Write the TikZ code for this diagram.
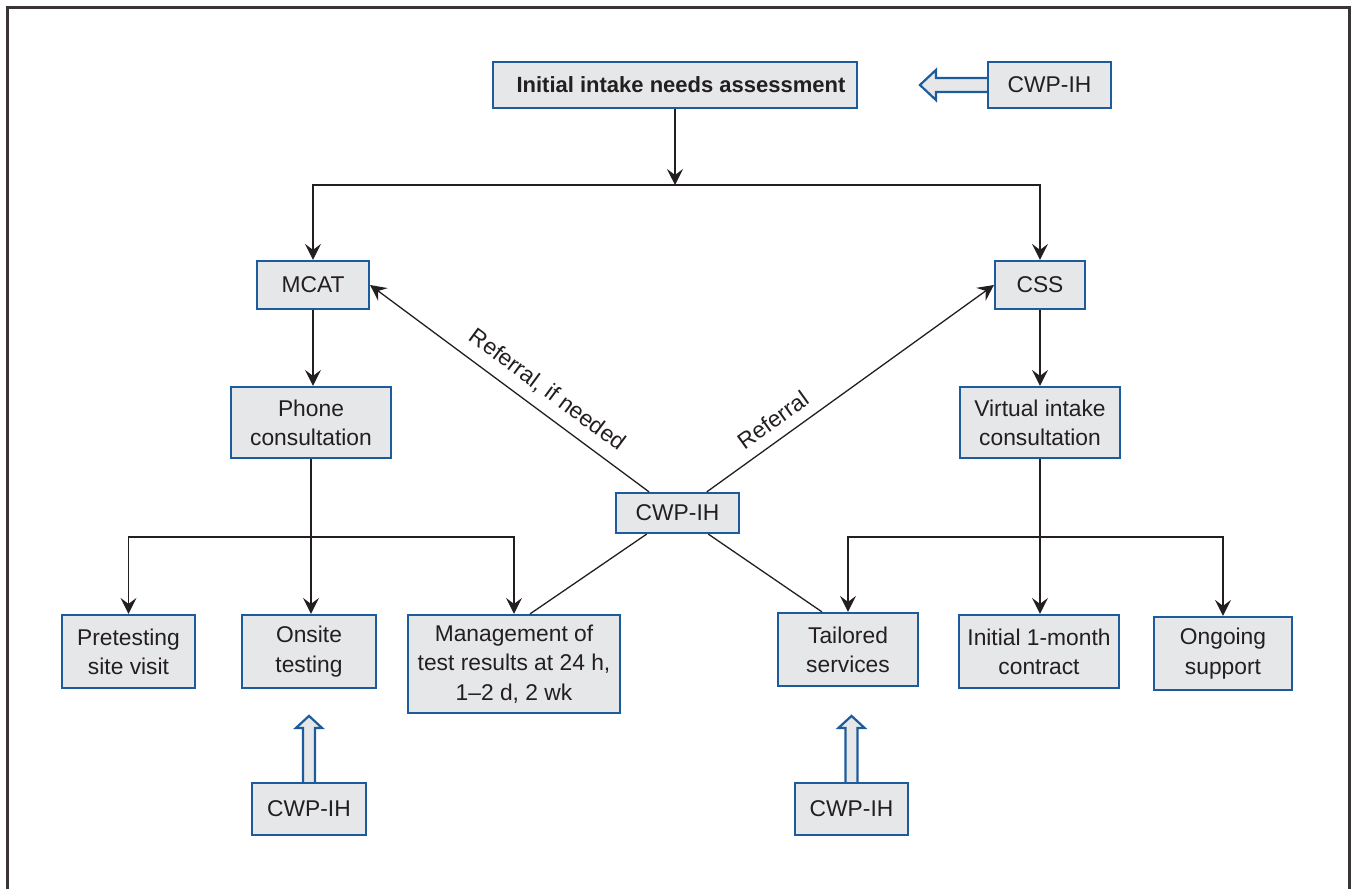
\documentclass[tikz,border=0pt]{standalone}
\usepackage{fontspec}
\setmainfont{Liberation Sans}
\usetikzlibrary{arrows.meta,calc,backgrounds}

\definecolor{boxgray}{HTML}{E6E7E8}
\definecolor{boxblue}{HTML}{1D5C9C}
\definecolor{inkgray}{HTML}{231F20}

\tikzset{
  box/.style={draw=boxblue, fill=boxgray, line width=1.1pt, inner sep=0pt,
    align=center, text=inkgray, font=\fontsize{11.4}{14.6}\selectfont},
  conn/.style={draw=inkgray, line width=0.65pt},
  arr/.style={conn, -{Stealth[length=8pt,width=8pt,inset=3pt]}},
  hollowarrow/.style={draw=boxblue, fill=boxgray, line width=1.1pt, line join=miter},
  frameline/.style={draw=inkgray!90, line width=1.5pt},
  reflabel/.style={sloped, above=2pt, text=inkgray, font=\fontsize{11.4}{13}\selectfont}
}

\begin{document}
\begin{tikzpicture}[x=0.5pt, y=-0.5pt]

\useasboundingbox (0,0) rectangle (1353,889);

% Part A: Frame

\draw[frameline] (7,889) -- (7,7) -- (1349,7) -- (1349,889);

% Part B: Boxes

% Top row
\node[box, minimum width=182pt, minimum height=23pt] (intake) at (675,85) {};
\node[text=inkgray, font=\fontsize{11}{14}\selectfont\bfseries, inner sep=0pt] (intaketext) at (681,85) {Initial intake needs assessment};
\node[box, minimum width=61.5pt, minimum height=23pt] (cwptop) at (1049.5,85) {CWP-IH};

% Programs
\node[box, minimum width=56pt, minimum height=24pt] (mcat) at (313,285) {MCAT};
\node[box, minimum width=45pt, minimum height=24pt] (css) at (1040,285) {CSS};

% Consultations
\node[box, minimum width=80pt, minimum height=35.5pt] (phone) at (311,422.5) {Phone\\consultation};
\node[box, minimum width=80pt, minimum height=35.5pt] (virtual) at (1040,422.5) {Virtual intake\\consultation};

% Middle CWP-IH
\node[box, minimum width=61.5pt, minimum height=20pt] (cwpmid) at (677.5,513) {CWP-IH};

% Bottom row
\node[box, minimum width=66.5pt, minimum height=36.5pt] (pretest) at (128.5,651.5) {Pretesting\\site visit};
\node[box, minimum width=67pt, minimum height=36.5pt] (onsite) at (309,651.5) {Onsite\\testing};
\node[box, minimum width=106pt, minimum height=49pt] (manage) at (514,664) {Management of\\test results at 24 h,\\1--2 d, 2 wk};
\node[box, minimum width=70pt, minimum height=36.5pt] (tailored) at (848,649.5) {Tailored\\services};
\node[box, minimum width=80pt, minimum height=36.5pt] (contract) at (1039,651.5) {Initial 1-month\\contract};
\node[box, minimum width=69pt, minimum height=36.5pt] (ongoing) at (1223,653.5) {Ongoing\\support};

% Lower CWP-IH
\node[box, minimum width=57pt, minimum height=26pt] (cwpleft) at (309,809) {CWP-IH};
\node[box, minimum width=56.5pt, minimum height=26pt] (cwpright) at (851.5,809) {CWP-IH};

% Part C: Hollow arrows

\begin{scope}[on background layer]
\draw[hollowarrow] ($(cwptop.west)+(0,-7)$) -- ++(-51,0) -- ++(0,-8) -- ++(-16,15) -- ++(16,15) -- ++(0,-8) -- ++(51,0);
\draw[hollowarrow] ($(cwpleft.north)+(-6,0)$) -- ++(0,-54) -- ++(-7,0) -- ++(13,-12) -- ++(13,12) -- ++(-7,0) -- ++(0,54);
\draw[hollowarrow] ($(cwpright.north)+(-6,0)$) -- ++(0,-54) -- ++(-7,0) -- ++(13,-12) -- ++(13,12) -- ++(-7,0) -- ++(0,54);
\end{scope}

% Part D: Connectors

% Split to programs
\coordinate (topsplit) at (intake.south |- 0,185);
\draw[arr] (intake.south) -- (topsplit);
\draw[arr] (topsplit) -| (mcat.north);
\draw[arr] (topsplit) -| (css.north);

\draw[arr] (mcat.south) -- (mcat.south |- phone.north);
\draw[arr] (css.south) -- (css.south |- virtual.north);

% MCAT branch
\coordinate (phonesplit) at (phone.south |- 0,537);
\draw[conn] (phone.south) -- (phonesplit);
\draw[arr] (phonesplit) -| (pretest.north);
\draw[arr] (phonesplit) -- (phonesplit |- onsite.north);
\draw[arr] (phonesplit) -| (manage.north);

% CSS branch
\coordinate (virtualsplit) at (virtual.south |- 0,537);
\draw[conn] (virtual.south) -- (virtualsplit);
\draw[arr] (virtualsplit) -| (tailored.north);
\draw[arr] (virtualsplit) -- (virtualsplit |- contract.north);
\draw[arr] (virtualsplit) -| (ongoing.north);

% Referrals from CWP-IH
\draw[arr] (cwpmid) -- node[reflabel, pos=0.41] {Referral, if needed} (mcat.east);
\draw[arr] (cwpmid) -- node[reflabel, pos=0.27] {Referral} (css.west);
\draw[conn] (cwpmid) -- ($(manage.north)+(16,0)$);
\draw[conn] (cwpmid) -- ($(tailored.north)+(-26,0)$);

\end{tikzpicture}
\end{document}
